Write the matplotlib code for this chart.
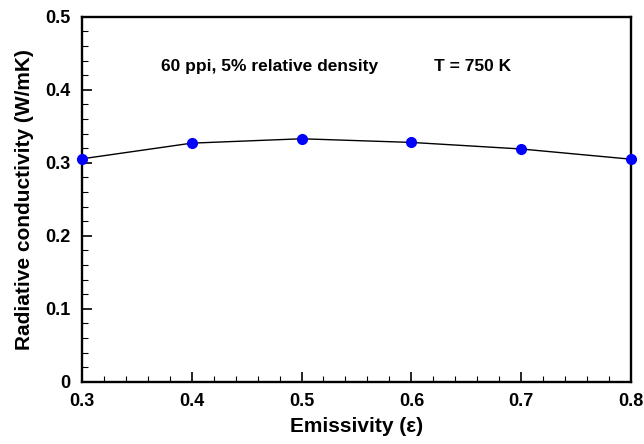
import matplotlib
matplotlib.use("Agg")
import matplotlib.pyplot as plt
from matplotlib.ticker import MultipleLocator

# data
emissivity = [0.3, 0.4, 0.5, 0.6, 0.7, 0.8]
conductivity = [0.3055, 0.327, 0.333, 0.328, 0.319, 0.305]
x_ticks = [0.3, 0.4, 0.5, 0.6, 0.7, 0.8]
x_labels = ['0.3', '0.4', '0.5', '0.6', '0.7', '0.8']
y_ticks = [0, 0.1, 0.2, 0.3, 0.4, 0.5]
y_labels = ['0', '0.1', '0.2', '0.3', '0.4', '0.5']

plt.rcParams['font.family'] = ['Liberation Sans', 'DejaVu Sans']
plt.rcParams['font.weight'] = 'bold'

fig = plt.figure(figsize=(6.44, 4.44), dpi=100)
ax = fig.add_axes([0.127, 0.140, 0.853, 0.822])

ax.plot(emissivity, conductivity, color='black', lw=1.0, zorder=2)
ax.plot(emissivity, conductivity, 'o', color='#0000ff', ms=7, zorder=3, clip_on=False)

ax.set_xlim(0.3, 0.8)
ax.set_ylim(0, 0.5)
ax.set_xticks(x_ticks)
ax.set_xticklabels(x_labels)
ax.set_yticks(y_ticks)
ax.set_yticklabels(y_labels)
ax.xaxis.set_minor_locator(MultipleLocator(0.02))
ax.yaxis.set_minor_locator(MultipleLocator(0.02))

ax.tick_params(which='both', direction='in', top=False, right=False, labelsize=13)
ax.tick_params(which='major', length=7, width=1.2, pad=8)
ax.tick_params(which='minor', length=4, width=0.8)
for sp in ax.spines.values():
    sp.set_linewidth(1.7)

ax.set_xlabel('Emissivity (ε)', fontsize=15, fontweight='bold', labelpad=5)
ax.set_ylabel('Radiative conductivity (W/mK)', fontsize=15, fontweight='bold', labelpad=8)

ax.text(0.471, 0.432, '60 ppi, 5% relative density', fontsize=12.5, fontweight='bold',
        ha='center', va='center')
ax.text(0.656, 0.432, 'T = 750 K', fontsize=12.5, fontweight='bold',
        ha='center', va='center')

fig.savefig('out.png', dpi=100)
